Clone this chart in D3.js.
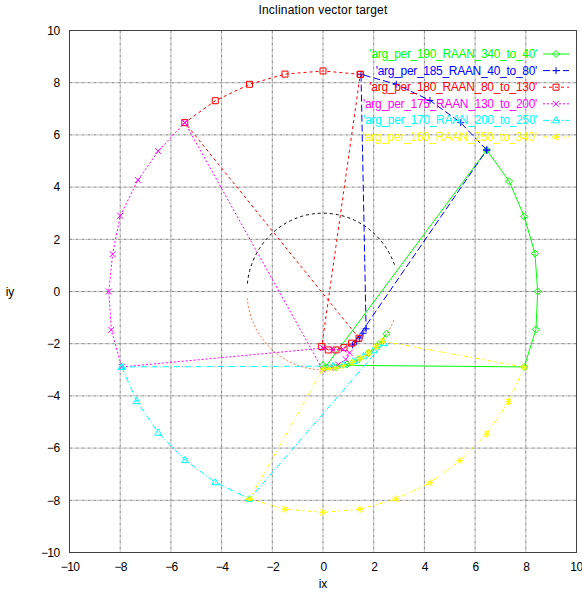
<!DOCTYPE html>
<html><head><meta charset="utf-8">
<script src="https://cdn.jsdelivr.net/npm/d3@7"></script>
<style>
html,body{margin:0;padding:0;background:#fff;}
svg{display:block;font-family:"Liberation Sans",Arial,sans-serif;}
</style></head>
<body><svg id="chart" width="582" height="594"></svg>
<script>
// ---------- data ----------
const chartTitle = "Inclination vector target";
const xLabel = "ix";
const yLabel = "iy";
const xTickValues = [-10, -8, -6, -4, -2, 0, 2, 4, 6, 8, 10];
const yTickValues = [-10, -8, -6, -4, -2, 0, 2, 4, 6, 8, 10];

const seriesNames = [
  "'arg_per_190_RAAN_340_to_40'",
  "'arg_per_185_RAAN_40_to_80'",
  "'arg_per_180_RAAN_80_to_130'",
  "'arg_per_175_RAAN_130_to_200'",
  "'arg_per_170_RAAN_200_to_250'",
  "'arg_per_160_RAAN_250_to_340'"
];

const greenX = [0.00, 7.94, 8.40, 8.47, 8.36, 7.94, 7.34, 6.46, 0.05, 0.50, 0.95, 1.40, 1.80, 2.20, 2.50];
const greenY = [-2.82, -2.89, -1.45, 0.00, 1.46, 2.87, 4.23, 5.42, -2.95, -2.91, -2.79, -2.60, -2.36, -2.02, -1.62];

const blueX = [6.46, 5.43, 4.22, 2.89, 1.50, 1.70, 1.58, 1.45, 1.33, 1.17, 6.46];
const blueY = [5.42, 6.47, 7.32, 7.94, 8.32, -1.43, -1.60, -1.78, -1.92, -2.05, 5.42];

const redX = [1.47, 0.00, -1.50, -2.90, -4.25, -5.45, 1.42, 1.13, 0.83, 0.51, 0.21, -0.05, 1.47];
const redY = [8.32, 8.45, 8.33, 7.94, 7.31, 6.47, -1.79, -1.98, -2.15, -2.24, -2.24, -2.11, 8.32];

const magentaX = [-5.45, -6.50, -7.30, -8.00, -8.30, -8.45, -8.35, -7.94, 0.00, 0.40, 0.80, 1.05, 0.90, 0.60, 0.30, -0.02, -5.45];
const magentaY = [6.47, 5.38, 4.27, 2.90, 1.43, 0.00, -1.47, -2.89, -2.17, -2.23, -2.22, -2.35, -2.60, -2.80, -2.92, -2.98, 6.47];

const cyanX = [-7.94, -7.35, -6.50, -5.44, -4.25, -2.90, 2.40, 2.00, 1.60, 1.20, 0.80, 0.40, -7.94];
const cyanY = [-2.89, -4.20, -5.41, -6.46, -7.31, -7.95, -1.98, -2.25, -2.48, -2.67, -2.80, -2.86, -2.89];

const yellowX = [-2.90, -1.50, 0.00, 1.46, 2.88, 4.22, 5.40, 6.46, 7.32, 7.93, 2.35, 2.10, 1.80, 1.50, 1.15, 0.80, 0.50, 0.25, 0.00, -2.90];
const yellowY = [-7.95, -8.34, -8.46, -8.34, -7.95, -7.33, -6.48, -5.46, -4.22, -2.90, -1.90, -2.10, -2.35, -2.55, -2.72, -2.85, -2.93, -2.96, -2.97, -7.95];

// target circle (radius in ix/iy units) and its two drawn arcs (degrees)
const targetRadius = 3;
const upperArcDeg = [20, 175];
const lowerArcDeg = [185, 340];

// ---------- styles ----------
const seriesColors = ["#00ff00", "#0000ff", "#ff0000", "#ff00ff", "#00ffff", "#ffff00"];
const seriesDash = ["none", "7,3", "3,3", "2,2", "6,2,1,2", "4,2,1,2,1,2"];
const seriesMarker = ["diamond", "plus", "square", "cross", "triangle", "star"];

(function () {
// ---------- layout ----------
const svg = d3.select("#chart");
const pL = 69.5, pR = 576.5, pT = 30.5, pB = 552.5;
const x = d3.scaleLinear().domain([-10, 10]).range([pL, pR]);
const y = d3.scaleLinear().domain([-10, 10]).range([pB, pT]);

// grid
const grid = svg.append("g");
xTickValues.slice(1, -1).forEach(v => {
  grid.append("line").attr("x1", x(v)).attr("x2", x(v)).attr("y1", pT).attr("y2", pB)
    .attr("stroke", "#808080").attr("stroke-width", 1).attr("stroke-dasharray", "3,1,1,1");
});
yTickValues.slice(1, -1).forEach(v => {
  grid.append("line").attr("y1", y(v)).attr("y2", y(v)).attr("x1", pL).attr("x2", pR)
    .attr("stroke", "#808080").attr("stroke-width", 1).attr("stroke-dasharray", "3,1,1,1");
});

// axes with labels
const xAxis = d3.axisBottom(x).tickValues(xTickValues).tickSize(0).tickPadding(10).tickFormat(d3.format("d"));
const gx = svg.append("g").attr("transform", `translate(0,${pB})`).call(xAxis);
gx.select(".domain").remove();
gx.selectAll("text").attr("font-size", 12).attr("fill", "#000")
  .attr("font-family", "Liberation Sans, Arial, sans-serif").attr("letter-spacing", -0.6);
// keep the last label inside the picture
gx.selectAll("text").filter(d => d === 10).attr("text-anchor", "end").attr("dx", 5.5);

const yAxis = d3.axisLeft(y).tickValues(yTickValues).tickSize(0).tickPadding(10).tickFormat(d3.format("d"));
const gy = svg.append("g").attr("transform", `translate(${pL},0)`).call(yAxis);
gy.select(".domain").remove();
gy.selectAll("text").attr("font-size", 12).attr("fill", "#000")
  .attr("font-family", "Liberation Sans, Arial, sans-serif").attr("letter-spacing", -0.6);

// border
svg.append("rect").attr("x", pL).attr("y", pT).attr("width", pR - pL).attr("height", pB - pT)
  .attr("fill", "none").attr("stroke", "#404040").attr("stroke-width", 1);

// titles
svg.append("text").attr("x", (pL + pR) / 2).attr("y", 14).attr("text-anchor", "middle")
  .attr("font-size", 12).attr("letter-spacing", 0.2).text(chartTitle);
svg.append("text").attr("x", (pL + pR) / 2).attr("y", 588).attr("text-anchor", "middle")
  .attr("font-size", 12).text(xLabel);
svg.append("text").attr("x", 10).attr("y", 296).attr("text-anchor", "middle")
  .attr("font-size", 12).text(yLabel);

// target circle arcs (ellipse in screen space because scales differ)
const rx = x(targetRadius) - x(0), ry = y(0) - y(targetRadius);
function arcPath(a0, a1) {
  const r0 = a0 * Math.PI / 180, r1 = a1 * Math.PI / 180;
  const p0 = [x(0) + rx * Math.cos(r0), y(0) - ry * Math.sin(r0)];
  const p1 = [x(0) + rx * Math.cos(r1), y(0) - ry * Math.sin(r1)];
  const large = (a1 - a0) > 180 ? 1 : 0;
  return `M${p0[0]},${p0[1]} A${rx},${ry} 0 ${large} 0 ${p1[0]},${p1[1]}`;
}
svg.append("path").attr("d", arcPath(upperArcDeg[0], upperArcDeg[1]))
  .attr("fill", "none").attr("stroke", "#000").attr("stroke-width", 1).attr("stroke-dasharray", "3,3");
svg.append("path").attr("d", arcPath(lowerArcDeg[0], lowerArcDeg[1]))
  .attr("fill", "none").attr("stroke", "#ff7040").attr("stroke-width", 1).attr("stroke-dasharray", "2,2");

// markers
const markerPaths = {
  diamond: "M0,-3.5L3.5,0L0,3.5L-3.5,0Z",
  plus: "M-3.5,0H3.5M0,-3.5V3.5",
  square: "M-3,-3H3V3H-3Z",
  cross: "M-3,-3L3,3M-3,3L3,-3",
  triangle: "M0,-3.8L3.5,2.5H-3.5Z",
  star: "M-3.5,0H3.5M0,-3.5V3.5M-2.6,-2.6L2.6,2.6M-2.6,2.6L2.6,-2.6"
};

const seriesX = [greenX, blueX, redX, magentaX, cyanX, yellowX];
const seriesY = [greenY, blueY, redY, magentaY, cyanY, yellowY];

const line = d3.line().x(d => x(d[0])).y(d => y(d[1]));
const plot = svg.append("g");
seriesNames.forEach((name, i) => {
  const pts = seriesX[i].map((v, k) => [v, seriesY[i][k]]);
  plot.append("path").datum(pts).attr("d", line)
    .attr("fill", "none").attr("stroke", seriesColors[i]).attr("stroke-width", 1)
    .attr("stroke-dasharray", seriesDash[i]);
  plot.selectAll(null).data(pts).enter().append("path")
    .attr("transform", d => `translate(${x(d[0])},${y(d[1])})`)
    .attr("d", markerPaths[seriesMarker[i]])
    .attr("fill", "none").attr("stroke", seriesColors[i]).attr("stroke-width", 1);
});

// legend
const legend = svg.append("g");
seriesNames.forEach((name, i) => {
  const ly = 54 + i * 16.6;
  legend.append("text").attr("x", 537).attr("y", ly + 4).attr("text-anchor", "end")
    .attr("font-size", 12).attr("letter-spacing", -0.3).attr("fill", seriesColors[i]).text(name);
  legend.append("line").attr("x1", 543).attr("x2", 569).attr("y1", ly).attr("y2", ly)
    .attr("stroke", seriesColors[i]).attr("stroke-width", 1).attr("stroke-dasharray", seriesDash[i]);
  legend.append("path").attr("transform", `translate(556,${ly})`).attr("d", markerPaths[seriesMarker[i]])
    .attr("fill", "none").attr("stroke", seriesColors[i]).attr("stroke-width", 1);
});
})();
</script>
</body></html>
